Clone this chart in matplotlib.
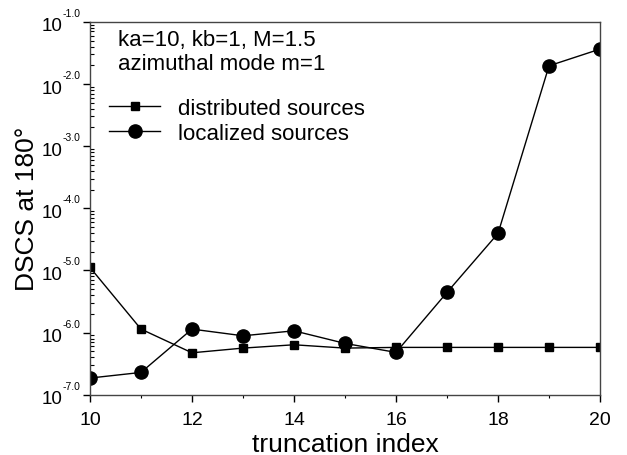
import numpy as np
import matplotlib
matplotlib.use("Agg")
import matplotlib.pyplot as plt
from matplotlib.ticker import FixedLocator, LogLocator, NullFormatter

plt.rcParams['font.family'] = ['Liberation Sans', 'DejaVu Sans']

# truncation index
trunc = [10, 11, 12, 13, 14, 15, 16, 17, 18, 19, 20]
# DSCS at 180 deg
distributed = [1.12e-5, 1.14e-6, 4.74e-7, 5.64e-7, 6.38e-7, 5.64e-7,
               5.79e-7, 5.79e-7, 5.79e-7, 5.79e-7, 5.79e-7]
localized = [1.86e-7, 2.29e-7, 1.14e-6, 8.9e-7, 1.07e-6, 6.71e-7,
             4.81e-7, 4.44e-6, 3.95e-5, 1.96e-2, 3.64e-2]

y_exps = [-1.0, -2.0, -3.0, -4.0, -5.0, -6.0, -7.0]
x_ticks = [10, 12, 14, 16, 18, 20]
x_minor = [11, 13, 15, 17, 19]

fig = plt.figure(figsize=(6.27, 4.56), dpi=100)
ax = fig.add_axes([0.1435, 0.132, 0.8135, 0.818])

ax.plot(trunc, distributed, color='black', lw=1, marker='s', ms=6,
        label='distributed sources')
ax.plot(trunc, localized, color='black', lw=1, marker='o', ms=9.5,
        label='localized sources')

ax.set_yscale('log')
ax.set_ylim(1e-7, 1e-1)
ax.set_xlim(10, 20)

ax.yaxis.set_major_locator(FixedLocator([10 ** e for e in y_exps]))
ax.yaxis.set_major_formatter(NullFormatter())
ax.yaxis.set_minor_locator(LogLocator(base=10, subs=np.arange(2, 10)))
ax.yaxis.set_minor_formatter(NullFormatter())

# y tick labels: big "10" with a small exponent
for e in y_exps:
    ax.annotate('10', xy=(0, 10 ** e), xycoords=('axes fraction', 'data'),
                xytext=(-19.5, -3), textcoords='offset points',
                ha='right', va='center', fontsize=13.5, annotation_clip=False)
    ax.annotate('%.1f' % e, xy=(0, 10 ** e), xycoords=('axes fraction', 'data'),
                xytext=(-19.5, 6.5), textcoords='offset points',
                ha='left', va='center', fontsize=7.5, annotation_clip=False)

ax.set_xticks(x_ticks)
ax.set_xticks(x_minor, minor=True)

ax.tick_params(axis='x', which='major', direction='out', length=5,
               width=1, labelsize=14, pad=7)
ax.tick_params(axis='x', which='minor', direction='out', length=2.5, width=0.8)
ax.tick_params(axis='y', which='major', direction='out', length=5, width=1)
ax.tick_params(axis='y', which='minor', direction='in', length=3, width=0.8)

for s in ax.spines.values():
    s.set_linewidth(1)
    s.set_color('#444444')

ax.set_xlabel('truncation index', fontsize=19)
ax.xaxis.set_label_coords(0.5, -0.1)
ax.set_ylabel('DSCS at 180°', fontsize=19)
ax.yaxis.set_label_coords(-0.1, 0.5)

ax.text(0.055, 0.98, 'ka=10, kb=1, M=1.5\nazimuthal mode m=1',
        transform=ax.transAxes, ha='left', va='top', fontsize=16,
        linespacing=1.15)
ax.legend(loc='upper left', bbox_to_anchor=(0.02, 0.82), frameon=False,
          fontsize=16, handlelength=2.3, handletextpad=0.8,
          labelspacing=0.2, borderaxespad=0)

fig.savefig('out.png', dpi=100)
